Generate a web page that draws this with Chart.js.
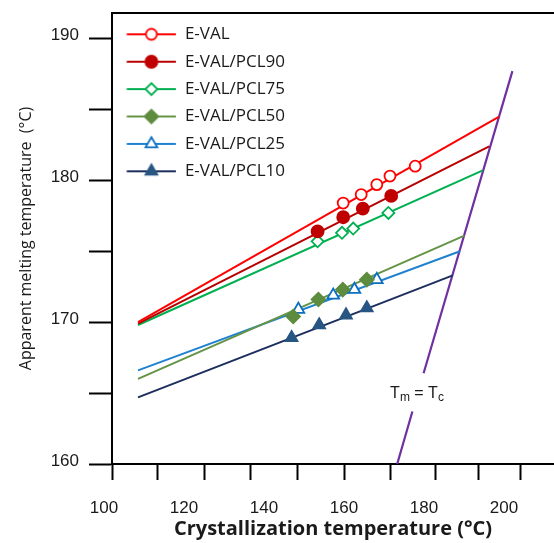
<!DOCTYPE html>
<html>
<head>
<meta charset="utf-8">
<script src="https://cdn.jsdelivr.net/npm/chart.js@4.4.1/dist/chart.umd.min.js"></script>
<style>
	body { margin: 0; background: #fff; }
	#wrap { width: 554px; height: 543px; }
</style>
</head>
<body>
<div id="wrap"><canvas id="chart" width="554" height="543"></canvas></div>
<script>
// series names (legend order)
var seriesNames = ['E-VAL', 'E-VAL/PCL90', 'E-VAL/PCL75', 'E-VAL/PCL50', 'E-VAL/PCL25', 'E-VAL/PCL10'];

// measured points: crystallization temperature (Tc) vs apparent melting temperature (Tm)
var evalTc  = [159.8, 164.3, 168.2, 171.5, 177.8];
var evalTm  = [178.4, 179.0, 179.7, 180.3, 181.0];
var pcl90Tc = [153.4, 159.8, 164.7, 171.8];
var pcl90Tm = [176.4, 177.4, 178.0, 178.9];
var pcl75Tc = [153.4, 159.5, 162.3, 171.1];
var pcl75Tm = [175.7, 176.3, 176.6, 177.7];
var pcl50Tc = [147.3, 153.6, 159.7, 165.7];
var pcl50Tm = [170.4, 171.6, 172.3, 173.0];
var pcl25Tc = [148.6, 157.3, 162.6, 168.2];
var pcl25Tm = [170.9, 171.9, 172.3, 173.0];
var pcl10Tc = [146.9, 153.8, 160.5, 165.7];
var pcl10Tm = [168.9, 169.8, 170.5, 171.0];

// extrapolated fit lines, [start, end] of each series
var fitTc = [[108.5, 198.8], [108.5, 196.3], [108.5, 194.7], [108.5, 190.1], [108.5, 189.0], [108.5, 187.2]];
var fitTm = [[170.0, 184.5], [169.9, 182.4], [169.8, 180.7], [166.0, 176.1], [166.6, 175.0], [164.7, 173.3]];

// Tm = Tc line (broken where its label sits)
var eqTc = [173.3, 177.1, null, 179.9, 202.1];
var eqTm = [160.0, 163.7, null, 166.4, 187.7];
var eqLabelTc = 178.25;
var eqLabelTm = 165.1;

// axis ticks
var xLabels = [100, 120, 140, 160, 180, 200];
var xMarks = [102, 113.3, 125, 136.7, 148.3, 160, 171.7, 182.8, 193.6, 204];
var yTicks = [160, 165, 170, 175, 180, 185, 190];

var tcList = [evalTc, pcl90Tc, pcl75Tc, pcl50Tc, pcl25Tc, pcl10Tc];
var tmList = [evalTm, pcl90Tm, pcl75Tm, pcl50Tm, pcl25Tm, pcl10Tm];

// styles
var markerColors = ['#ff0000', '#c00000', '#00b050', '#5e8c3f', '#0b6fc1', '#285683'];
var lineColors   = ['#ff0000', '#b80000', '#00b050', '#649445', '#1f82d0', '#1c2e5e'];
var markerShapes = ['circle', 'circle', 'rectRot', 'rectRot', 'triangle', 'triangle'];
var markerFilled = [false, true, false, true, false, true];
var markerRadius = [5.5, 6, 6, 6.8, 6.8, 6.8];

var markerSets = seriesNames.map(function(name, i) {
	return {
		label: name,
		data: tcList[i].map(function(x, j) { return {x: x, y: tmList[i][j]}; }),
		showLine: false,
		pointStyle: markerShapes[i],
		pointRadius: markerRadius[i],
		pointBorderWidth: 1.8,
		pointBorderColor: markerColors[i],
		pointBackgroundColor: markerFilled[i] ? markerColors[i] : '#ffffff',
		borderColor: lineColors[i],
		backgroundColor: markerColors[i]
	};
});

var fitSets = seriesNames.map(function(name, i) {
	return {
		label: name + ' fit',
		data: [{x: fitTc[i][0], y: fitTm[i][0]}, {x: fitTc[i][1], y: fitTm[i][1]}],
		showLine: true,
		pointRadius: 0,
		borderColor: lineColors[i],
		borderWidth: 2
	};
});

var eqSet = {
	label: 'Tm = Tc',
	data: eqTc.map(function(x, j) { return {x: x, y: eqTm[j]}; }),
	showLine: true,
	spanGaps: false,
	pointRadius: 0,
	borderColor: '#7030a0',
	borderWidth: 2.2
};

// small canvas with line + marker for each legend entry
function legendSample(i) {
	var c = document.createElement('canvas');
	c.width = 54;
	c.height = 18;
	var ctx = c.getContext('2d');
	ctx.strokeStyle = lineColors[i];
	ctx.lineWidth = 2.2;
	ctx.beginPath();
	ctx.moveTo(4.3, 9);
	ctx.lineTo(53.8, 9);
	ctx.stroke();
	ctx.fillStyle = markerFilled[i] ? markerColors[i] : '#ffffff';
	ctx.strokeStyle = markerColors[i];
	ctx.lineWidth = 1.8;
	Chart.helpers.drawPoint(ctx, {pointStyle: markerShapes[i], radius: markerRadius[i], borderWidth: 1.8, rotation: 0}, 29, 9);
	return c;
}

// top frame line of the plot area
var framePlugin = {
	id: 'frame',
	afterDraw: function(chart) {
		var a = chart.chartArea;
		var ctx = chart.ctx;
		ctx.save();
		ctx.strokeStyle = '#000';
		ctx.lineWidth = 2;
		ctx.beginPath();
		ctx.moveTo(a.left - 1, a.top);
		ctx.lineTo(a.right, a.top);
		ctx.stroke();
		ctx.restore();
	}
};

// "Tm = Tc" label with subscripts
var eqLabelPlugin = {
	id: 'eqLabel',
	afterDatasetsDraw: function(chart) {
		var ctx = chart.ctx;
		var cx = chart.scales.x.getPixelForValue(eqLabelTc);
		var cy = chart.scales.y.getPixelForValue(eqLabelTm);
		var big = '16px "Liberation Sans"';
		var small = '12px "Liberation Sans"';
		var parts = [['T', big, 0], ['m', small, 3], [' = ', big, 0], ['T', big, 0], ['c', small, 3]];
		ctx.save();
		ctx.fillStyle = '#1a1a1a';
		ctx.textBaseline = 'alphabetic';
		ctx.textAlign = 'left';
		var total = 0;
		parts.forEach(function(p) { ctx.font = p[1]; total += ctx.measureText(p[0]).width; });
		var x = cx - total / 2;
		parts.forEach(function(p) {
			ctx.font = p[1];
			ctx.fillText(p[0], x, cy + 6 + p[2]);
			x += ctx.measureText(p[0]).width;
		});
		ctx.restore();
	}
};

function noPadding(scale) {
	scale.paddingTop = 0;
	scale.paddingBottom = 0;
	scale.paddingLeft = 0;
	scale.paddingRight = 0;
}

var xTicksAll = xLabels.concat(xMarks.filter(function(v) { return xLabels.indexOf(v) < 0; }))
	.sort(function(a, b) { return a - b; });

var ctx = document.getElementById('chart').getContext('2d');
new Chart(ctx, {
	type: 'scatter',
	data: {
		datasets: markerSets.concat(fitSets).concat([eqSet])
	},
	plugins: [eqLabelPlugin, framePlugin],
	options: {
		responsive: false,
		animation: false,
		devicePixelRatio: 1,
		events: [],
		layout: { autoPadding: false, padding: {top: 13, left: 0, right: 0, bottom: 0} },
		plugins: {
			tooltip: { enabled: false },
			legend: {
				position: 'chartArea',
				align: 'start',
				title: { display: true, text: '', font: { size: 10 }, padding: { top: 3.4, bottom: 0 } },
				labels: {
					usePointStyle: true,
					pointStyleWidth: 54,
					padding: 10.4,
					color: '#1a1a1a',
					font: { family: 'Open Sans', size: 17 },
					generateLabels: function(chart) {
						return seriesNames.map(function(name, i) {
							return {
								text: name,
								pointStyle: legendSample(i),
								fillStyle: markerColors[i],
								strokeStyle: markerColors[i],
								lineWidth: 0,
								hidden: false,
								datasetIndex: i,
								fontColor: '#1a1a1a'
							};
						});
					}
				}
			}
		},
		scales: {
			x: {
				type: 'linear',
				position: 'bottom',
				min: 102,
				max: 212.5,
				afterBuildTicks: function(scale) {
					scale.ticks = xTicksAll.map(function(v) { return {value: v}; });
				},
				afterFit: function(scale) { scale.height = 79; noPadding(scale); },
				border: { color: '#000', width: 2 },
				grid: {
					drawOnChartArea: false,
					tickLength: 16,
					tickWidth: 2,
					tickColor: function(c) {
						return (c.tick && xMarks.indexOf(c.tick.value) >= 0) ? '#000' : 'rgba(0,0,0,0)';
					}
				},
				ticks: {
					autoSkip: false,
					maxRotation: 0,
					padding: 18,
					color: '#1a1a1a',
					font: { family: 'Liberation Sans', size: 17 },
					callback: function(v) { return xLabels.indexOf(v) >= 0 ? String(v) : ''; }
				},
				title: {
					display: true,
					text: 'Crystallization temperature (°C)',
					color: '#1a1a1a',
					font: { family: 'Open Sans', size: 20, weight: 'bold' },
					padding: { top: 0, bottom: 2 }
				}
			},
			y: {
				type: 'linear',
				min: 160,
				max: 191.8,
				afterBuildTicks: function(scale) {
					scale.ticks = yTicks.map(function(v) { return {value: v}; });
				},
				afterFit: function(scale) { scale.width = 112; noPadding(scale); },
				border: { color: '#000', width: 2 },
				grid: { drawOnChartArea: false, tickLength: 23, tickWidth: 2, tickColor: '#000' },
				ticks: {
					autoSkip: false,
					padding: 10,
					labelOffset: -3,
					color: '#1a1a1a',
					font: { family: 'Liberation Sans', size: 17 },
					callback: function(v) { return v % 10 === 0 ? String(v) : ''; }
				},
				title: {
					display: true,
					text: 'Apparent melting temperature  (°C)',
					color: '#1a1a1a',
					font: { family: 'Open Sans', size: 16 },
					padding: { top: 17, bottom: 0 }
				}
			}
		}
	}
});
</script>
</body>
</html>
